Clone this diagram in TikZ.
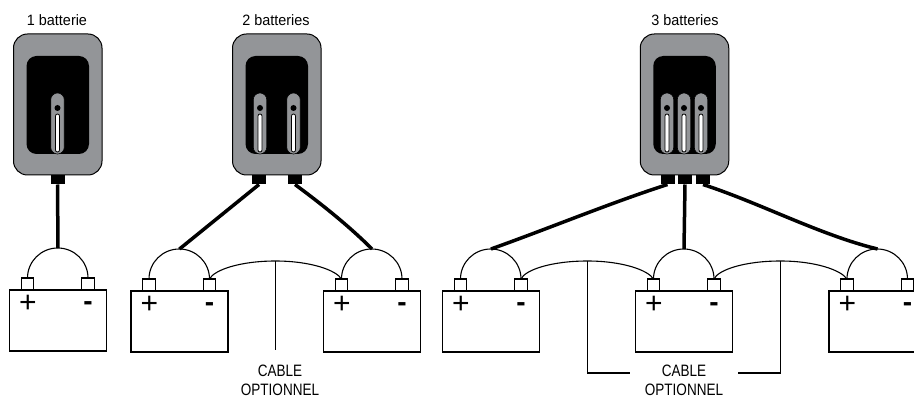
\documentclass[tikz,border=0pt]{standalone}
\usepackage{fontspec}
\setmainfont{Liberation Sans}
\definecolor{chgray}{HTML}{939598}
\tikzset{
  x=1pt,y=-1pt,
  base/.style={inner sep=0pt,outer sep=0pt,anchor=center},
  batbox/.style={base,draw,line width=1.2pt,minimum width=97pt,minimum height=61pt},
  termbox/.style={base,draw,line width=1.2pt,fill=white,minimum width=12.5pt,minimum height=12pt},
  sign/.style={base,font=\fontsize{30}{30}\selectfont},
  minus sign/.style={base,font=\fontsize{28}{28}\selectfont\bfseries},
  thin wire/.style={line width=1.1pt},
  thick wire/.style={line width=3.5pt},
  casing/.style={base,draw,line width=1pt,fill=chgray,rounded corners=14pt,minimum width=88.5pt,minimum height=141pt},
  well/.style={base,fill=black,rounded corners=10pt,minimum width=62.5pt,minimum height=98pt},
  slotbody/.style={base,draw=black,line width=.6pt,fill=chgray,rounded corners=6.7pt,minimum width=13.5pt,minimum height=61pt},
  slotpill/.style={base,draw=black,line width=.8pt,fill=white,rounded corners=2pt,minimum width=4pt,minimum height=38pt},
  slotdot/.style={base,fill=black,circle,minimum size=6pt},
  plug/.style={base,fill=black,minimum width=14pt,minimum height=9pt},
  caption/.style={base,align=center,font=\fontsize{15}{19}\selectfont,xscale=.96},
  cablenote/.style={base,align=center,font=\fontsize{16.5}{19}\selectfont,xscale=.82},
}
% name, left x, top y
\newcommand{\battery}[3]{%
  \node[batbox] (#1) at ({#2+48.5},{#3+30.5}) {};
  \node[termbox] (#1p) at ({#2+18},{#3-6}) {};
  \node[termbox] (#1m) at ({#2+78.5},{#3-6}) {};
  \node[sign] (#1ps) at ({#2+18.3},{#3+14}) {+};
  \node[minus sign] (#1ms) at ({#2+78.5},{#3+16.5}) {-};
  \draw[thin wire] (#1p.north) arc[start angle=180,end angle=360,x radius=30.25,y radius=30];
  \coordinate (#1t) at ({#2+48.5},{#3-42});
}
% name, centre x
\newcommand{\charger}[2]{%
  \node[casing] (#1) at (#2,104.5) {};
  \node[well] (#1w) at (#2,105) {};
}
% name, centre x
\newcommand{\slotunit}[2]{%
  \node[slotbody] (#1) at (#2,123.5) {};
  \node[slotdot] (#1d) at (#2,108) {};
  \node[slotpill] (#1l) at (#2,133) {};
}
\begin{document}
\begin{tikzpicture}
\useasboundingbox (0,0) rectangle (914,398);
\clip (0,0) rectangle (914,398);

\node[caption] (t1) at (57,20) {1 batterie};
\node[caption] (t2) at (276,20) {2 batteries};
\node[caption] (t3) at (685,20) {3 batteries};

% chargers
\charger{c1}{57.75}
\slotunit{s1}{57.5}
\node[plug] (p1) at (57.5,180) {};

\charger{c2}{276.75}
\slotunit{s2a}{260}
\slotunit{s2b}{293.5}
\node[plug] (p2a) at (259,180) {};
\node[plug] (p2b) at (295,180) {};

\charger{c3}{684.5}
\slotunit{s3a}{667}
\slotunit{s3b}{684}
\slotunit{s3c}{701}
\node[plug] (p3a) at (667.5,180) {};
\node[plug] (p3b) at (685,180) {};
\node[plug] (p3c) at (703,180) {};

% batteries
\battery{a}{9.5}{290}
\battery{b}{131}{291}
\battery{c}{323.5}{291}
\battery{d}{442.5}{291}
\battery{e}{635.5}{291}
\battery{f}{829}{291}

% optional cables
\coordinate (j1) at (275.5,261);
\coordinate (j2) at (587.5,261);
\coordinate (j3) at (780.5,261);
\coordinate (e1) at (275.5,350);
\coordinate (e2) at (587.5,373);
\coordinate (e3) at (780.5,373);
\coordinate (f2) at (630,373);
\coordinate (f3) at (738,373);

\draw[thin wire] (bm.north) .. controls (214,270) and (240,261) .. (j1) .. controls (310,261) and (336,270) .. (cp.north);
\draw[thin wire] (dm.north) .. controls (525,270) and (551,261) .. (j2) .. controls (622,261) and (648,270) .. (ep.north);
\draw[thin wire] (em.north) .. controls (718,270) and (744,261) .. (j3) .. controls (815,261) and (841,270) .. (fp.north);
\draw[thin wire] (j1) -- (e1);
\draw[thin wire] (j2) -- (e2) -- (f2);
\draw[thin wire] (j3) -- (e3) -- (f3);

% charger leads
\draw[thick wire] (p1.south) -- (at);
\draw[thick wire] (p2a.south) -- (bt);
\draw[thick wire] (p2b.south) .. controls (320,203) and (348,225) .. (ct);
\draw[thick wire] (p3a.south) .. controls (610,203) and (550,228) .. (dt);
\draw[thick wire] (p3b.south) -- (et);
\draw[thick wire] (p3c.south) .. controls (760,203) and (820,235) .. (ft);

% labels
\node[cablenote] (l1) at (280,380.5) {CABLE\\OPTIONNEL};
\node[cablenote] (l2) at (684,380.5) {CABLE\\OPTIONNEL};
\end{tikzpicture}
\end{document}
